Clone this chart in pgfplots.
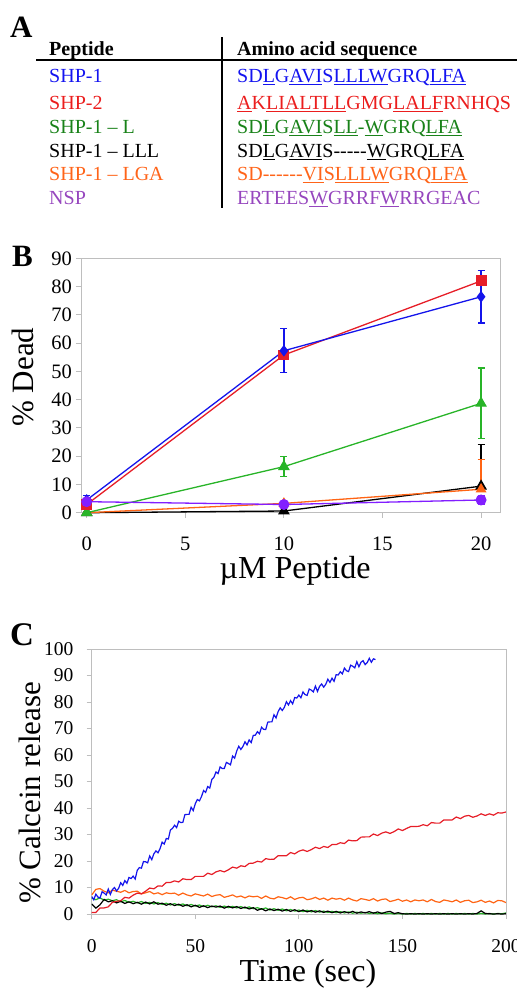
\documentclass[border=0pt]{standalone}
\usepackage{pgfplots}
\pgfplotsset{compat=1.18}
\usepackage{fontspec}
\setmainfont{Liberation Serif}
\setsansfont{Liberation Sans}
\definecolor{tblue}{RGB}{20,20,240}
\definecolor{tred}{RGB}{235,30,30}
\definecolor{tgreen}{RGB}{25,130,25}
\definecolor{torange}{RGB}{255,100,25}
\definecolor{tpurple}{RGB}{150,70,190}
\definecolor{cblue}{RGB}{20,20,235}
\definecolor{cred}{RGB}{230,30,40}
\definecolor{cgreen}{RGB}{40,180,40}
\definecolor{corange}{RGB}{255,100,20}
\definecolor{cpurple}{RGB}{130,30,255}
\definecolor{cgrid}{RGB}{190,190,190}
\newcommand\hy{\mbox{-}}
\newcommand\tf{\fontsize{20}{24}\selectfont}
\begin{document}
\begin{tikzpicture}[x=1pt,y=1pt]
\useasboundingbox (0,0) rectangle (517,-989);
% ---------------- Panel A ----------------
\node[anchor=base west,inner sep=0] at (10,-37.5) {\fontsize{31}{35}\selectfont\bfseries A};
\node[anchor=base west,inner sep=0] at (49,-55) {\tf\bfseries Peptide};
\node[anchor=base west,inner sep=0] at (237,-55) {\tf\bfseries Amino acid sequence};
\draw[line width=1.6pt] (36,-60) -- (517,-60);
\draw[line width=1.4pt] (222,-37) -- (222,-208);
\node[anchor=base west,inner sep=0,text=tblue] at (49,-82.5) {\tf SHP-1};
\node[anchor=base west,inner sep=0,text=tred] at (49,-109.5) {\tf SHP-2};
\node[anchor=base west,inner sep=0,text=tgreen] at (49,-133.5) {\tf SHP-1 – L};
\node[anchor=base west,inner sep=0,text=black] at (49,-157.5) {\tf SHP-1 – LLL};
\node[anchor=base west,inner sep=0,text=torange] at (49,-180.5) {\tf SHP-1 – LGA};
\node[anchor=base west,inner sep=0,text=tpurple] at (49,-204.5) {\tf NSP};
\node[anchor=base west,inner sep=0,text=tblue] at (237,-82.5) {\tf SD\underline{L}G\underline{AVI}S\underline{LLLW}GRQ\underline{LFA}};
\node[anchor=base west,inner sep=0,text=tred] at (237,-109.5) {\tf \underline{A}K\underline{LIALTLL}GMG\underline{LALF}RNHQS};
\node[anchor=base west,inner sep=0,text=tgreen] at (237,-133.5) {\tf SD\underline{L}G\underline{AVI}S\underline{LL}\hy\underline{W}GRQ\underline{LFA}};
\node[anchor=base west,inner sep=0,text=black] at (237,-157.5) {\tf SD\underline{L}G\underline{AVI}S\hy\hy\hy\hy\hy\underline{W}GRQ\underline{LFA}};
\node[anchor=base west,inner sep=0,text=torange] at (237,-180.5) {\tf SD\hy\hy\hy\hy\hy\hy\underline{VI}S\underline{LLLW}GRQ\underline{LFA}};
\node[anchor=base west,inner sep=0,text=tpurple] at (237,-204.5) {\tf ERTEES\underline{W}GRRF\underline{W}RRGEAC};
% ---------------- Panel B ----------------
\node[anchor=base west,inner sep=0] at (12,-266.7) {\fontsize{31}{35}\selectfont\bfseries B};
\begin{axis}[at={(81pt,-512.7pt)}, anchor=south west, scale only axis,
  width=419pt, height=254.4pt,
  xmin=-0.29, xmax=20.96, ymin=0, ymax=90,
  xtick={0,5,10,15,20}, ytick={0,10,...,90},
  axis line style={cgrid,line width=0.9pt},
  tick style={cgrid,line width=0.9pt},
  tick align=outside, major tick length=5pt, tick pos=left,
  /pgf/number format/assume math mode=true,
  tick label style={font=\fontsize{20.5}{24}\selectfont, text=black},
  yticklabel style={inner sep=0pt, xshift=-4pt},
  xticklabel style={inner sep=0pt, yshift=-19pt},
  xlabel={µM Peptide},
  xlabel style={font=\fontsize{32}{36}\selectfont, at={(axis description cs:0.511,-0.257)}, anchor=base},
  ylabel={\% Dead},
  ylabel style={font=\fontsize{31}{36}\selectfont, at={(axis description cs:-0.138,0.533)}, anchor=center},
  clip=false,
  every axis plot/.append style={line width=1.3pt},
  error bars/error bar style={line width=1.3pt},
  error bars/error mark options={mark size=3.5pt, line width=1.3pt, rotate=90},
]
\addplot[black, mark=triangle*, mark size=5.5pt, mark options={fill=black},
  error bars/.cd, y dir=plus, y explicit] coordinates {
  (0,0) +- (0,0) (10,0.6) +- (0,0) (20,9.4) +- (0,14.8)};
\addplot[corange, mark=triangle*, mark size=5pt, mark options={fill=corange},
  error bars/.cd, y dir=plus, y explicit] coordinates {
  (0,0) +- (0,0) (10,3.3) +- (0,0) (20,8.3) +- (0,10.6)};
\addplot[cgreen, mark=triangle*, mark size=5.5pt, mark options={fill=cgreen},
  error bars/.cd, y dir=both, y explicit] coordinates {
  (0,0) +- (0,0) (10,16.3) +- (0,3.6) (20,38.7) +- (0,12.5)};
\addplot[cred, mark=square*, mark size=4.8pt, mark options={fill=cred}] coordinates {
  (0,2.9) (10,55.8) (20,82.0)};
\addplot[cblue, mark=diamond*, mark size=4.8pt, mark options={fill=cblue},
  error bars/.cd, y dir=both, y explicit] coordinates {
  (0,4.5) +- (0,1.5) (10,57.3) +- (0,7.8) (20,76.4) +- (0,9.3)};
\addplot[cpurple, mark=*, mark size=4.8pt, mark options={fill=cpurple},
  error bars/.cd, y dir=both, y explicit] coordinates {
  (0,3.9) +- (0,0.5) (10,2.9) +- (0,0.5) (20,4.5) +- (0,1.5)};
\end{axis}
% ---------------- Panel C ----------------
\node[anchor=base west,inner sep=0] at (10,-645.7) {\fontsize{33}{37}\selectfont\bfseries C};
\begin{axis}[at={(91.7pt,-914pt)}, anchor=south west, scale only axis,
  width=414.3pt, height=265pt,
  xmin=0, xmax=200, ymin=0, ymax=100,
  xtick={0,50,...,200}, ytick={0,10,...,100},
  axis line style={cgrid,line width=0.9pt},
  tick style={cgrid,line width=0.9pt},
  tick align=outside, major tick length=5pt, tick pos=left,
  /pgf/number format/assume math mode=true,
  tick label style={font=\fontsize{19.5}{23}\selectfont, text=black},
  yticklabel style={inner sep=0pt, xshift=-13pt},
  xticklabel style={inner sep=0pt, yshift=-20pt},
  xlabel={Time (sec)},
  xlabel style={font=\fontsize{32}{36}\selectfont, at={(axis description cs:0.522,-0.255)}, anchor=base},
  ylabel={\% Calcein release},
  ylabel style={font=\fontsize{31}{36}\selectfont, at={(axis description cs:-0.149,0.457)}, anchor=center},
  every axis plot/.append style={line width=1.2pt, no marks},
]
\addplot[cgreen] coordinates {
(0,6.0)(2,5.4)(4,6.1)(6,5.2)(8,5.6)(10,5.0)(12,5.4)(14,4.6)(16,5.1)(18,4.4)
(20,4.8)(22,4.2)(24,4.7)(26,4.0)(28,4.4)(30,3.8)(32,4.3)(34,3.6)(36,4.1)(38,3.4)
(40,3.9)(42,3.3)(44,3.8)(46,3.1)(48,3.6)(50,3.0)(52,3.4)(54,2.8)(56,3.3)(58,2.7)
(60,3.1)(62,2.5)(64,3.0)(66,2.4)(68,2.9)(70,2.3)(72,2.8)(74,2.2)(76,2.7)(78,2.0)
(80,2.4)(82,1.8)(84,2.3)(86,1.5)(88,2.0)(90,1.4)(92,1.9)(94,1.2)(96,1.7)(98,1.1)
(100,1.5)(102,0.9)(104,1.4)(106,0.8)(108,1.3)(110,0.7)(112,1.1)(114,0.6)(116,1.0)(118,0.5)
(120,0.9)(122,0.4)(124,0.8)(126,0.3)(128,0.7)(130,0.3)(132,0.6)(134,0.2)(136,0.5)(138,0.1)
(140,0.4)(142,0.1)(144,0.3)(146,0.0)(148,0.2)(150,0.0)(152,0.2)(154,0.0)(156,0.2)(158,0.0)
(160,0.2)(162,0.0)(164,0.2)(166,0.0)(168,0.2)(170,0.0)(172,0.2)(174,0.0)(176,0.2)(178,0.0)
(180,0.2)(182,0.0)(184,0.2)(186,0.0)(188,0.2)(190,0.0)(192,0.2)(194,0.0)(196,0.2)(198,0.1)(200,0.4)};
\addplot[black] coordinates {
(0,3.8)(2,2.2)(4,3.5)(6,5.5)(8,4.6)(10,5.0)(12,4.2)(14,4.8)(16,4.0)(18,4.6)
(20,3.9)(22,4.4)(24,3.7)(26,4.5)(28,3.8)(30,4.6)(32,3.7)(34,4.1)(36,3.3)(38,3.9)
(40,3.2)(42,3.7)(44,2.9)(46,3.5)(48,2.7)(50,3.3)(52,2.5)(54,3.1)(56,2.4)(58,3.0)
(60,2.6)(62,3.0)(64,2.2)(66,2.9)(68,2.3)(70,2.8)(72,2.1)(74,2.6)(76,1.9)(78,2.4)
(80,1.4)(82,2.0)(84,1.2)(86,1.9)(88,1.3)(90,1.8)(92,1.1)(94,1.7)(96,1.0)(98,1.6)
(100,0.9)(102,1.5)(104,0.8)(106,1.3)(108,0.7)(110,1.2)(112,0.6)(114,1.1)(116,0.5)(118,1.0)
(120,0.4)(122,0.9)(124,0.4)(126,1.0)(128,0.3)(130,0.8)(132,0.4)(134,0.9)(136,0.3)(138,0.8)
(140,0.2)(142,0.7)(144,1.0)(146,0.2)(148,0.5)(150,0.1)(152,0.0)(154,0.1)(156,0.0)(158,0.1)
(160,0.0)(162,0.1)(164,0.0)(166,0.1)(168,0.0)(170,0.1)(172,0.0)(174,0.1)(176,0.0)(178,0.1)
(180,0.0)(182,0.1)(184,0.0)(186,0.2)(188,1.2)(190,0.2)(192,0.1)(194,0.0)(196,0.1)(198,0.0)(200,0.1)};
\addplot[corange] coordinates {
(0,7.2)(2,9.3)(4,9.6)(6,8.6)(8,8.0)(10,9.0)(12,8.6)(14,8.2)(16,8.9)(18,8.0)
(20,8.5)(22,8.6)(24,7.6)(26,8.0)(28,8.5)(30,7.6)(32,8.0)(34,7.3)(36,8.0)(38,7.7)
(40,7.9)(42,7.1)(44,7.9)(46,7.2)(48,6.8)(50,7.6)(52,7.2)(54,6.8)(56,7.5)(58,6.6)
(60,7.1)(62,7.3)(64,6.3)(66,6.7)(68,7.2)(70,6.4)(72,6.8)(74,6.1)(76,6.8)(78,6.5)
(80,6.7)(82,5.9)(84,6.8)(86,6.0)(88,5.7)(90,6.5)(92,6.2)(94,5.7)(96,6.5)(98,5.5)
(100,6.1)(102,6.3)(104,5.4)(106,5.7)(108,6.3)(110,5.5)(112,6.0)(114,5.2)(116,6.0)(118,5.6)
(120,5.9)(122,5.2)(124,6.0)(126,5.3)(128,4.9)(130,5.8)(132,5.5)(134,5.1)(136,5.8)(138,4.9)
(140,5.5)(142,5.7)(144,4.7)(146,5.1)(148,5.6)(150,4.8)(152,5.3)(154,4.6)(156,5.3)(158,5.0)
(160,5.3)(162,4.6)(164,5.5)(166,4.7)(168,4.4)(170,5.3)(172,5.0)(174,4.6)(176,5.3)(178,4.4)
(180,5.0)(182,5.2)(184,4.3)(186,4.6)(188,5.2)(190,4.4)(192,4.9)(194,4.2)(196,5.1)(198,5.0)(200,4.3)};
\addplot[cred] coordinates {
(0,0.6)(2,0.6)(4,2.3)(6,2.3)(8,2.7)(10,4.4)(12,4.8)(14,5.0)(16,6.3)(18,6.0)
(20,7.1)(22,7.9)(24,7.6)(26,8.6)(28,9.8)(30,9.5)(32,10.6)(34,10.5)(36,11.9)(38,11.9)
(40,12.5)(42,12.1)(44,13.3)(46,13.0)(48,13.0)(50,14.2)(52,14.2)(54,14.2)(56,15.4)(58,14.9)
(60,15.9)(62,16.4)(64,15.9)(66,16.7)(68,17.7)(70,17.3)(72,18.2)(74,17.9)(76,19.1)(78,19.2)
(80,19.9)(82,19.6)(84,20.9)(86,20.6)(88,20.7)(90,22.0)(92,22.0)(94,22.0)(96,23.2)(98,22.7)
(100,23.7)(102,24.2)(104,23.6)(106,24.3)(108,25.2)(110,24.7)(112,25.5)(114,25.1)(116,26.2)(118,26.2)
(120,26.9)(122,26.6)(124,27.9)(126,27.6)(128,27.7)(130,29.0)(132,29.1)(134,29.1)(136,30.2)(138,29.6)
(140,30.5)(142,31.0)(144,30.4)(146,31.1)(148,32.1)(150,31.5)(152,32.3)(154,33.0)(156,33.0)(158,33.1)
(160,33.7)(162,33.3)(164,34.5)(166,34.3)(168,34.3)(170,35.5)(172,35.5)(174,35.5)(176,36.6)(178,36.0)
(180,36.9)(182,37.2)(184,36.5)(186,37.0)(188,37.8)(190,37.2)(192,37.8)(194,37.3)(196,38.2)(198,38.1)(200,38.5)};
\addplot[cblue] coordinates {
(0,6.6)(1,5.4)(2,7.5)(3,6.4)(4,6.0)(5,8.4)(6,7.9)(7,7.2)(8,9.4)(9,7.4)
(10,9.2)(11,10.0)(12,8.7)(13,9.7)(14,11.8)(15,10.8)(16,12.6)(17,11.6)(18,13.8)(19,13.4)
(20,14.3)(21,13.2)(22,16.5)(23,17.5)(24,17.3)(25,19.8)(26,19.7)(27,19.3)(28,21.9)(29,20.5)
(30,22.7)(31,23.8)(32,23.1)(33,24.7)(34,27.1)(35,26.4)(36,28.5)(37,28.3)(38,31.7)(39,32.3)
(40,33.5)(41,32.6)(42,35.0)(43,34.5)(44,34.6)(45,37.5)(46,37.6)(47,37.6)(48,40.3)(49,39.0)
(50,41.6)(51,43.2)(52,42.7)(53,44.3)(54,46.6)(55,45.9)(56,48.1)(57,47.5)(58,50.8)(59,51.6)
(60,53.6)(61,53.0)(62,55.5)(63,54.9)(64,54.9)(65,57.2)(66,56.8)(67,56.3)(68,59.6)(69,58.8)
(70,61.5)(71,63.3)(72,62.1)(73,63.2)(74,65.0)(75,63.8)(76,65.7)(77,64.7)(78,67.4)(79,67.5)
(80,68.8)(81,68.0)(82,70.5)(83,69.7)(84,69.6)(85,72.4)(86,72.5)(87,72.5)(88,75.2)(89,74.0)
(90,76.4)(91,77.8)(92,76.8)(93,78.0)(94,80.1)(95,78.9)(96,80.5)(97,79.3)(98,81.7)(99,81.5)
(100,82.6)(101,81.6)(102,83.8)(103,82.8)(104,82.5)(105,84.9)(106,84.5)(107,83.8)(108,86.0)(109,84.0)
(110,85.9)(111,86.8)(112,85.6)(113,86.7)(114,88.6)(115,87.4)(116,89.0)(117,87.8)(118,90.3)(119,90.2)
(120,91.4)(121,90.6)(122,92.8)(123,91.8)(124,91.5)(125,93.9)(126,93.5)(127,92.9)(128,95.2)(129,93.3)
(130,95.0)(131,95.6)(132,94.1)(133,94.9)(134,96.5)(135,95.0)(136,96.3)(137,96.0)};
\end{axis}
\end{tikzpicture}
\end{document}
